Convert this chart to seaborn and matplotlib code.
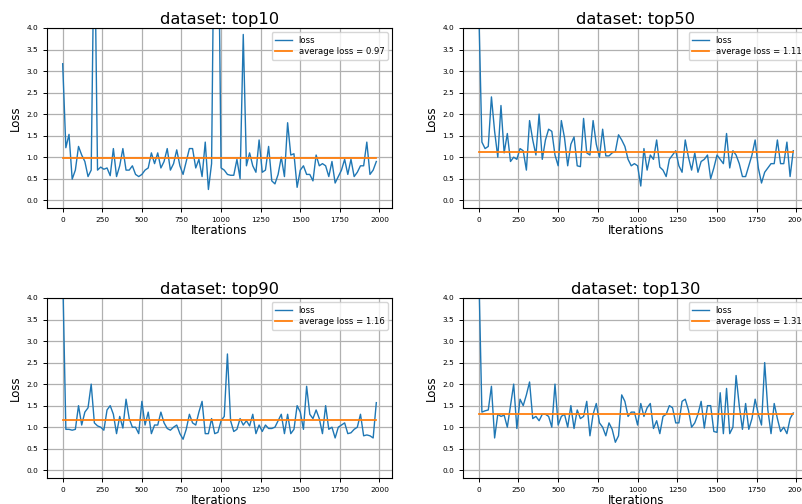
import numpy as np
import pandas as pd
import seaborn as sns
import matplotlib
matplotlib.use("Agg")
import matplotlib.pyplot as plt

# ─────────────────────────────────────────
# DATA
# ─────────────────────────────────────────
iterations = list(range(0, 2000, 20))

datasets  = ["top10", "top50", "top90", "top130"]
avg_loss  = [0.97, 1.11, 1.16, 1.31]

loss_top10 = [
    3.17, 1.22, 1.53, 0.49, 0.70, 1.25, 1.05, 0.90, 0.55, 0.70,
    6.50, 0.70, 0.77, 0.72, 0.75, 0.57, 1.20, 0.55, 0.80, 1.20,
    0.70, 0.70, 0.80, 0.60, 0.55, 0.60, 0.70, 0.75, 1.10, 0.85,
    1.10, 0.75, 0.90, 1.20, 0.70, 0.85, 1.17, 0.80, 0.60, 0.90,
    1.20, 1.20, 0.75, 0.95, 0.55, 1.35, 0.25, 0.85, 8.00, 7.50,
    0.75, 0.70, 0.60, 0.58, 0.58, 0.95, 0.50, 3.85, 0.80, 1.10,
    0.80, 0.65, 1.40, 0.65, 0.70, 1.25, 0.45, 0.38, 0.60, 1.00,
    0.55, 1.80, 1.05, 1.08, 0.30, 0.70, 0.80, 0.60, 0.60, 0.45,
    1.05, 0.80, 0.85, 0.80, 0.55, 0.90, 0.40, 0.55, 0.70, 0.95,
    0.60, 0.95, 0.55, 0.65, 0.80, 0.80, 1.35, 0.60, 0.70, 0.90,
]

loss_top50 = [
    4.50, 1.35, 1.20, 1.25, 2.40, 1.60, 1.00, 2.20, 1.10, 1.55,
    0.90, 1.00, 0.95, 1.20, 1.15, 0.70, 1.85, 1.40, 1.05, 2.00,
    0.95, 1.40, 1.65, 1.60, 1.05, 0.80, 1.85, 1.45, 0.80, 1.30,
    1.47, 0.80, 0.78, 1.90, 1.10, 1.05, 1.85, 1.30, 1.00, 1.65,
    1.03, 1.03, 1.10, 1.13, 1.52, 1.40, 1.25, 0.95, 0.80, 0.85,
    0.80, 0.33, 1.20, 0.70, 1.05, 0.95, 1.40, 0.77, 0.70, 0.55,
    0.95, 1.05, 1.15, 0.80, 0.65, 1.40, 1.00, 0.70, 1.10, 0.65,
    0.90, 0.95, 1.05, 0.50, 0.75, 1.05, 0.95, 0.85, 1.55, 0.75,
    1.15, 1.05, 0.85, 0.55, 0.55, 0.80, 1.05, 1.40, 0.75, 0.40,
    0.65, 0.75, 0.85, 0.85, 1.40, 0.85, 0.85, 1.35, 0.55, 1.15,
]

loss_top90 = [
    4.60, 0.95, 0.95, 0.93, 0.95, 1.50, 1.05, 1.35, 1.45, 2.00,
    1.10, 1.03, 1.00, 0.93, 1.40, 1.50, 1.30, 0.85, 1.25, 0.98,
    1.65, 1.20, 1.00, 1.00, 0.85, 1.60, 1.05, 1.35, 0.85, 1.05,
    1.05, 1.35, 1.10, 0.97, 0.93, 1.00, 1.05, 0.85, 0.72, 0.95,
    1.30, 1.10, 1.05, 1.35, 1.60, 0.85, 0.85, 1.20, 0.85, 0.88,
    1.15, 1.25, 2.70, 1.15, 0.90, 0.95, 1.20, 1.05, 1.15, 1.03,
    1.30, 0.85, 1.05, 0.90, 1.05, 0.97, 0.97, 1.00, 1.15, 1.30,
    0.85, 1.30, 0.85, 0.95, 1.50, 1.35, 0.95, 1.95, 1.30, 1.20,
    1.40, 1.20, 0.85, 1.50, 0.95, 1.00, 0.75, 1.00, 1.05, 1.10,
    0.85, 0.87, 0.95, 1.00, 1.30, 0.80, 0.82, 0.80, 0.75, 1.57,
]

loss_top130 = [
    4.70, 1.35, 1.38, 1.40, 1.95, 0.75, 1.30, 1.25, 1.28, 1.00,
    1.50, 2.00, 0.97, 1.65, 1.50, 1.75, 2.05, 1.20, 1.25, 1.15,
    1.30, 1.30, 1.25, 1.00, 2.00, 1.05, 1.25, 1.30, 1.00, 1.50,
    0.97, 1.40, 1.20, 1.25, 1.60, 0.80, 1.30, 1.55, 1.10, 1.00,
    0.80, 1.10, 0.95, 0.65, 0.80, 1.75, 1.60, 1.25, 1.35, 1.35,
    1.05, 1.55, 1.25, 1.45, 1.55, 0.97, 1.15, 0.85, 1.25, 1.30,
    1.50, 1.45, 1.10, 1.10, 1.60, 1.65, 1.40, 1.00, 1.10, 1.30,
    1.60, 0.98, 1.50, 1.50, 0.90, 0.88, 1.80, 0.85, 1.90, 0.85,
    1.00, 2.20, 1.50, 0.95, 1.55, 0.95, 1.20, 1.65, 1.30, 1.05,
    2.50, 1.40, 0.85, 1.55, 1.20, 0.90, 1.00, 0.85, 1.20, 1.33,
]

all_losses = [loss_top10, loss_top50, loss_top90, loss_top130]

# ─────────────────────────────────────────
# FIGURE
# ─────────────────────────────────────────
W, H = 802, 504
fig = plt.figure(figsize=(W / 100, H / 100), dpi=100)

# axes boxes in pixels: (left, top, right, bottom); right column runs past the edge
boxes = [
    (47, 28, 392, 208),
    (463, 28, 809, 208),
    (47, 298, 392, 478),
    (463, 298, 809, 478),
]

for name, avg, losses, (l, t, r, b) in zip(datasets, avg_loss, all_losses, boxes):
    ax = fig.add_axes([l / W, 1 - b / H, (r - l) / W, (b - t) / H])
    df = pd.DataFrame({"Iterations": iterations, "loss": losses,
                       "avg": [avg] * len(iterations)})
    sns.lineplot(data=df, x="Iterations", y="loss", ax=ax, color="#1f77b4",
                 linewidth=1.0, label="loss")
    sns.lineplot(data=df, x="Iterations", y="avg", ax=ax, color="#ff7f0e",
                 linewidth=1.3, label=f"average loss = {avg:.2f}")
    ax.set_ylim(-0.18, 4.0)
    ax.set_xlim(-99, 2079)
    ax.set_xticks([0, 250, 500, 750, 1000, 1250, 1500, 1750, 2000])
    ax.set_yticks(np.arange(0, 4.01, 0.5))
    ax.grid(True, color="#b0b0b0", linewidth=0.9)
    ax.tick_params(labelsize=5.3, length=3, width=0.7)
    for s in ax.spines.values():
        s.set_linewidth(0.8)
    ax.set_xlabel("Iterations", fontsize=8.5, labelpad=1)
    ax.set_ylabel("Loss", fontsize=8.5, labelpad=3)
    ax.set_title(f"dataset: {name}", fontsize=11.7, pad=3)
    ax.legend(loc="upper right", fontsize=6.1, framealpha=0.8,
              handlelength=2.0, borderpad=0.4, labelspacing=0.3)

plt.savefig("out.png", dpi=100)
